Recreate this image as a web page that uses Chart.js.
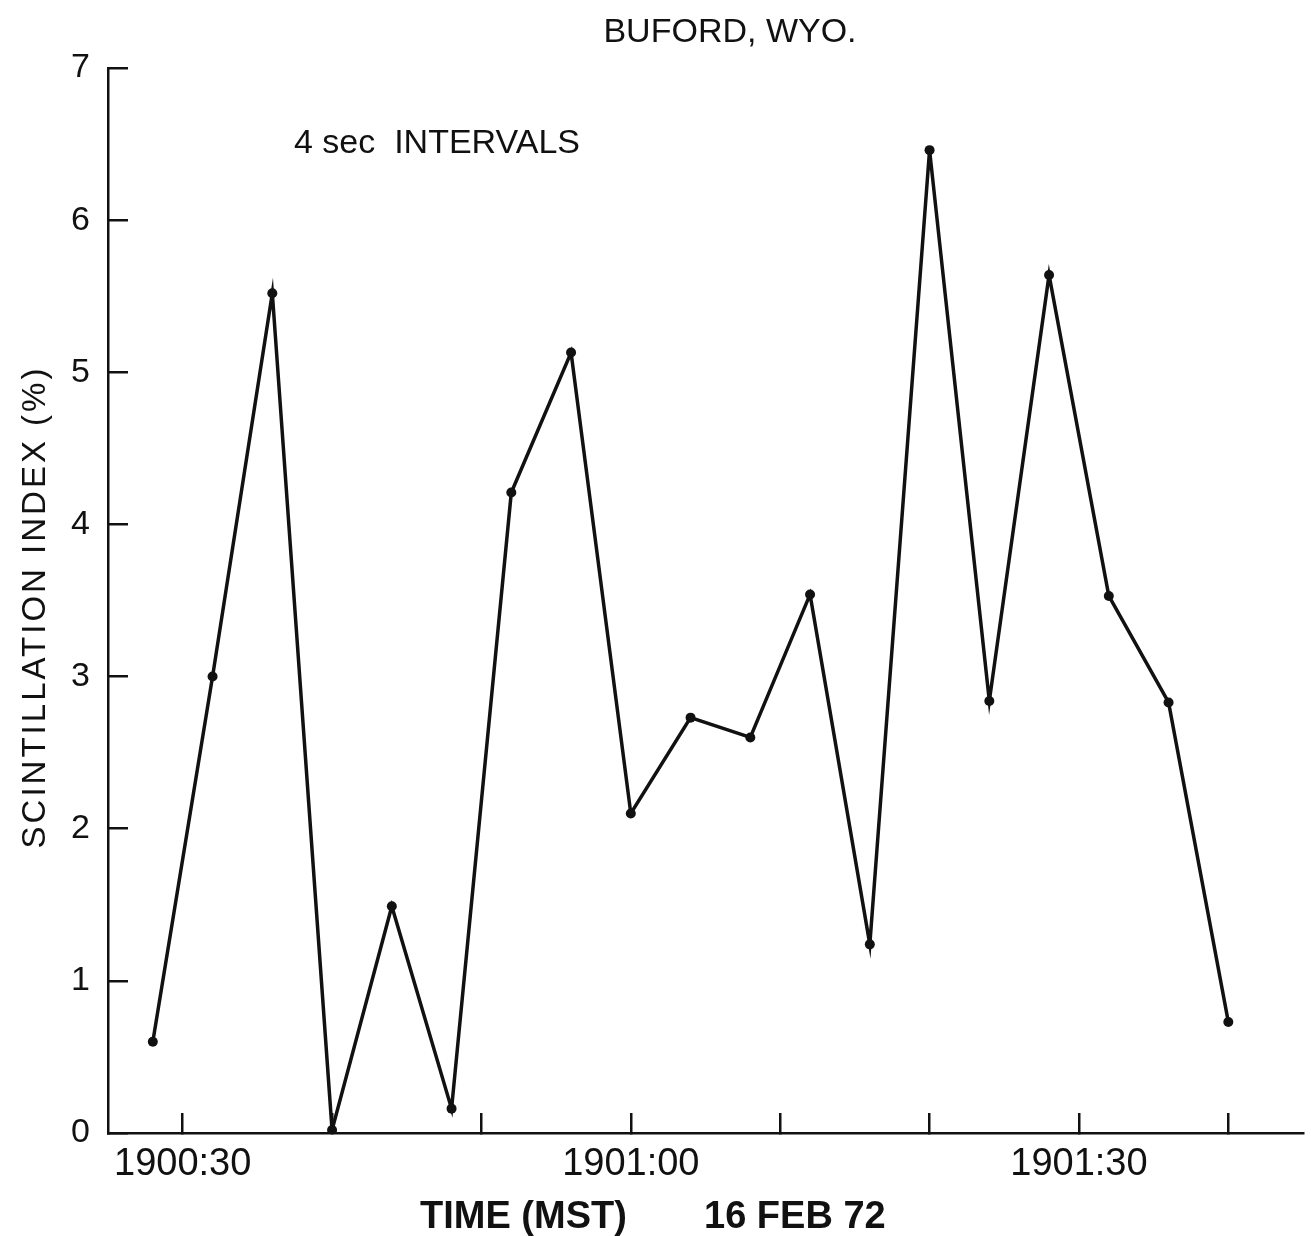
<!DOCTYPE html>
<html>
<head>
<meta charset="utf-8">
<script src="https://cdn.jsdelivr.net/npm/chart.js@4/dist/chart.umd.min.js"></script>
<style>
  html, body { margin: 0; padding: 0; background: #fff; }
  canvas { display: block; }
</style>
</head>
<body>
<canvas id="grafico" width="1311" height="1236"></canvas>
<script>
  // segundos depois de 1900:00 MST, um ponto a cada 4 s
  const tempos = [28, 32, 36, 40, 44, 48, 52, 56, 60, 64, 68, 72, 76, 80, 84, 88, 92, 96, 100];
  const indice = [0.60, 3.00, 5.52, 0.02, 1.49, 0.16, 4.21, 5.13, 2.10, 2.73, 2.60, 3.54, 1.24, 6.46, 2.84, 5.64, 3.53, 2.83, 0.73];

  const marcasX = [30, 40, 50, 60, 70, 80, 90, 100];
  const rotulosX = { 30: "1900:30", 60: "1901:00", 90: "1901:30" };
  const marcasY = [0, 1, 2, 3, 4, 5, 6, 7];

  const titulo = "BUFORD, WYO.";
  const nota = "4 sec  INTERVALS";
  const tituloY = "SCINTILLATION INDEX (%)";
  const tituloX1 = "TIME (MST)";
  const tituloX2 = "16 FEB 72";

  const tinta = "#111111";
  const fonte = "'Liberation Sans', Arial, sans-serif";

  const textos = {
    id: "textos",
    afterDraw(chart) {
      const ctx = chart.ctx;
      ctx.save();
      ctx.fillStyle = tinta;
      ctx.textBaseline = "alphabetic";

      ctx.font = `34px ${fonte}`;
      ctx.textAlign = "center";
      ctx.fillText(titulo, 730, 42);

      ctx.textAlign = "left";
      ctx.fillText(nota, 294, 153);

      ctx.font = `bold 38px ${fonte}`;
      ctx.fillText(tituloX1, 420, 1228);
      ctx.fillText(tituloX2, 704, 1228);

      ctx.translate(45, 607);
      ctx.rotate(-Math.PI / 2);
      ctx.font = `33px ${fonte}`;
      ctx.letterSpacing = "3px";
      ctx.textAlign = "center";
      ctx.fillText(tituloY, 0, 0);
      ctx.restore();
    }
  };

  new Chart(document.getElementById("grafico"), {
    type: "scatter",
    data: {
      datasets: [{
        data: tempos.map((t, i) => ({ x: t, y: indice[i] })),
        showLine: true,
        borderColor: tinta,
        borderWidth: 3.5,
        backgroundColor: tinta,
        pointRadius: 5,
        pointBorderWidth: 0
      }]
    },
    options: {
      responsive: false,
      devicePixelRatio: 1,
      animation: false,
      layout: { padding: { top: 68, right: 8, left: 0, bottom: 0 } },
      plugins: {
        legend: { display: false },
        tooltip: { enabled: false }
      },
      scales: {
        x: {
          type: "linear",
          min: 25,
          max: 105,
          afterBuildTicks: s => { s.ticks = marcasX.map(v => ({ value: v })); },
          afterFit: s => { s.height = 103; },
          border: { color: tinta, width: 2.5 },
          grid: { drawOnChartArea: false, tickLength: -20, color: tinta, lineWidth: 2.5 },
          ticks: {
            autoSkip: false,
            maxRotation: 0,
            padding: 29,
            color: tinta,
            font: { family: fonte, size: 38 },
            callback: v => rotulosX[v] || ""
          }
        },
        y: {
          min: 0,
          max: 7,
          afterBuildTicks: s => { s.ticks = marcasY.map(v => ({ value: v })); },
          afterFit: s => { s.width = 108; },
          border: { color: tinta, width: 2.5 },
          grid: { drawOnChartArea: false, tickLength: -20, color: tinta, lineWidth: 2.5 },
          ticks: {
            padding: 38,
            color: tinta,
            font: { family: fonte, size: 34 }
          }
        }
      }
    },
    plugins: [textos]
  });
</script>
</body>
</html>
